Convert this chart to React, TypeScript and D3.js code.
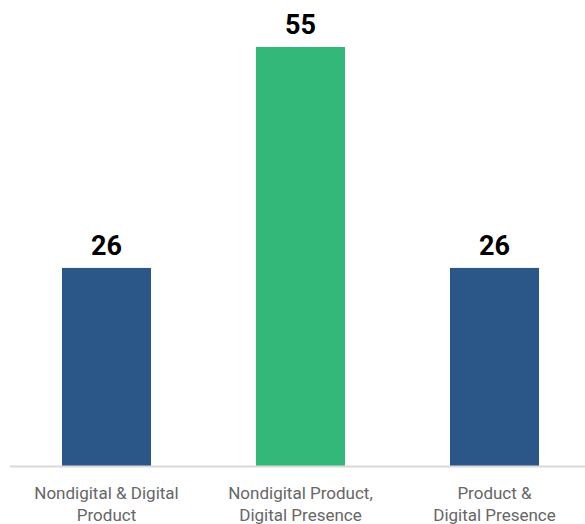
import React from "react";
import * as d3 from "d3";

const categories = ["Nondigital & Digital Product", "Nondigital Product, Digital Presence", "Product & Digital Presence"];
const labelLines = [["Nondigital & Digital", "Product"], ["Nondigital Product,", "Digital Presence"], ["Product &", "Digital Presence"]];
const values = [26, 55, 26];
const colors = ["#2a5788", "#33b87a", "#2a5788"];

const W = 585, H = 524;
const baseY = 466;

export default function App() {
  const x = d3.scaleBand<string>().domain(categories).range([9.5, 591.5]).paddingInner(0.541).paddingOuter(0.2705);
  const y = d3.scaleLinear().domain([0, 55]).range([baseY, 47]);
  return (
    <svg width={W} height={H} style={{ position: "absolute", left: 0, top: 0, background: "#fff" }}>
      {categories.map((c, i) => (
        <rect key={c} x={x(c)} y={y(values[i])} width={x.bandwidth()} height={baseY - y(values[i])} fill={colors[i]} />
      ))}
      <line x1={10} x2={585} y1={baseY + 0.5} y2={baseY + 0.5} stroke="#d9d9d9" strokeWidth={2} />
      {categories.map((c, i) => (
        <text key={c + "v"} x={x(c)! + x.bandwidth() / 2} y={y(values[i]) - 13} textAnchor="middle"
          fontFamily="Roboto, sans-serif" fontWeight="bold" fontSize={27} fill="#000">{values[i]}</text>
      ))}
      {categories.map((c, i) => (
        <text key={c + "l"} x={x(c)! + x.bandwidth() / 2} textAnchor="middle"
          fontFamily="Roboto, sans-serif" fontSize={17} fill="#666">
          {labelLines[i].map((l, j) => (
            <tspan key={j} x={x(c)! + x.bandwidth() / 2} y={499 + j * 22}>{l}</tspan>
          ))}
        </text>
      ))}
    </svg>
  );
}
